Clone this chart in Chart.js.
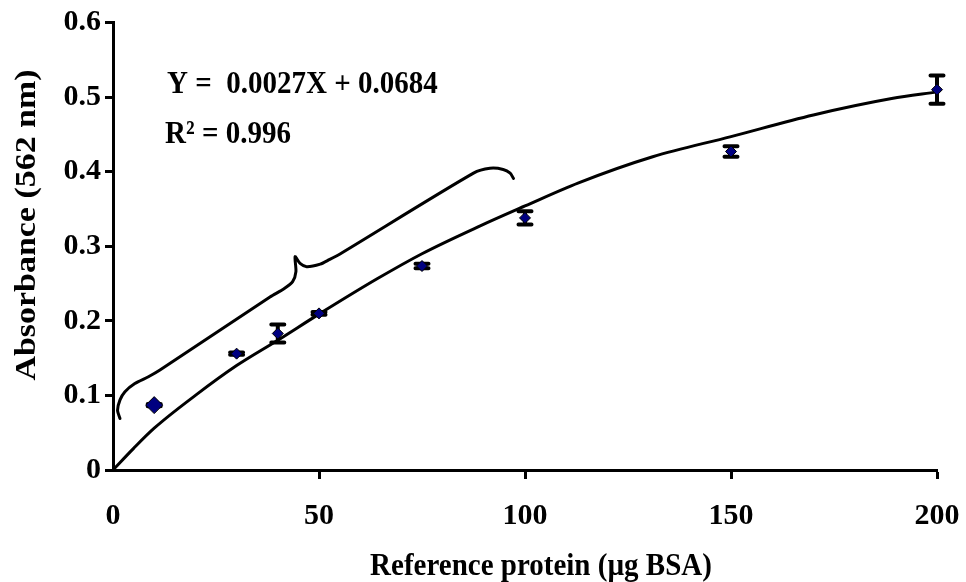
<!DOCTYPE html>
<html>
<head>
<meta charset="utf-8">
<script src="https://cdn.jsdelivr.net/npm/chart.js@4/dist/chart.umd.min.js"></script>
<style>
html,body{margin:0;padding:0;background:#fff;}
canvas{display:block;}
</style>
</head>
<body>
<canvas id="c" width="966" height="582"></canvas>
<script>
// ---- data ----
const sampleX   = [10, 30, 40, 50, 75, 100, 150, 200];
const sampleY   = [0.087, 0.156, 0.183, 0.210, 0.2735, 0.338, 0.427, 0.510];
const sampleErr = [0.0015, 0.0015, 0.012, 0.002, 0.003, 0.009, 0.007, 0.019];

const trendX = [0, 5, 10, 20, 30, 40, 50, 64, 75, 89, 100, 113, 131, 150, 170, 189, 200];
const trendY = [0, 0.029, 0.056, 0.100, 0.140, 0.174, 0.209, 0.256, 0.290, 0.327, 0.354, 0.385, 0.420, 0.447, 0.476, 0.498, 0.507];

const braceX = [1.7, 1.1, 1.7, 2.9, 5.3, 8.6, 11.4, 38.1, 41.5, 43.6, 44.4, 44.2, 45.4, 47.0, 50.3, 52.5, 55.5, 87.5, 91.5, 94.7, 96.4, 97.2];
const braceY = [0.069, 0.080, 0.094, 0.105, 0.116, 0.125, 0.134, 0.232, 0.243, 0.2525, 0.266, 0.286, 0.277, 0.2726, 0.276, 0.282, 0.291, 0.398, 0.4045, 0.403, 0.398, 0.391];

const xTickLabels = ['0', '50', '100', '150', '200'];
const yTickLabels = ['0', '0.1', '0.2', '0.3', '0.4', '0.5', '0.6'];

const xTitle = 'Reference protein (\u00b5g BSA)';
const yTitle = 'Absorbance (562 nm)';
const eqText = 'Y =  0.0027X + 0.0684';
const r2Text = 'R\u00b2 = 0.996';

// ---- helpers ----
const pts = (xs, ys) => xs.map((v, i) => ({x: v, y: ys[i]}));
const FONT = '"Liberation Serif", "Times New Roman", serif';

const errorBars = {
  id: 'errorBars',
  beforeDatasetsDraw(chart) {
    const {ctx, scales: {x, y}} = chart;
    ctx.save();
    ctx.strokeStyle = '#000';
    ctx.lineWidth = 4;
    ctx.lineCap = 'round';
    sampleX.forEach((xv, i) => {
      const px = x.getPixelForValue(xv);
      const top = y.getPixelForValue(sampleY[i] + sampleErr[i]);
      const bot = y.getPixelForValue(sampleY[i] - sampleErr[i]);
      ctx.beginPath();
      ctx.moveTo(px, top); ctx.lineTo(px, bot);
      ctx.moveTo(px - 6.5, top); ctx.lineTo(px + 6.5, top);
      ctx.moveTo(px - 6.5, bot); ctx.lineTo(px + 6.5, bot);
      ctx.stroke();
    });
    ctx.restore();
  }
};

const texts = {
  id: 'texts',
  afterDraw(chart) {
    const ctx = chart.ctx;
    ctx.save();
    ctx.fillStyle = '#000';
    ctx.font = 'bold 29px ' + FONT;
    ctx.textAlign = 'left';
    ctx.textBaseline = 'alphabetic';
    ctx.save(); ctx.translate(167, 93); ctx.scale(1, 1.08); ctx.fillText(eqText, 0, 0); ctx.restore();
    ctx.save(); ctx.translate(165, 143); ctx.scale(1, 1.08); ctx.fillText(r2Text, 0, 0); ctx.restore();
    ctx.textAlign = 'center';
    ctx.save(); ctx.translate(541, 575); ctx.scale(1, 1.08); ctx.fillText(xTitle, 0, 0); ctx.restore();
    ctx.save();
    ctx.translate(35, 225);
    ctx.rotate(-Math.PI / 2);
    ctx.scale(1.17, 1.04);
    ctx.fillText(yTitle, 0, 0);
    ctx.restore();
    ctx.restore();
  }
};

new Chart(document.getElementById('c'), {
  type: 'scatter',
  data: {
    datasets: [
      {
        label: 'samples',
        data: pts(sampleX, sampleY),
        pointStyle: 'rectRot',
        pointRadius: (c) => c.dataIndex === 0 ? 8.5 : 5.5,
        pointBackgroundColor: '#000080',
        pointBorderColor: '#000',
        pointBorderWidth: 1,
        showLine: false
      },
      {
        label: 'trend',
        data: pts(trendX, trendY),
        showLine: true,
        borderColor: '#000',
        borderWidth: 3,
        pointRadius: 0,
        cubicInterpolationMode: 'monotone',
        fill: false
      },
      {
        label: 'brace',
        data: pts(braceX, braceY),
        showLine: true,
        borderColor: '#000',
        borderWidth: 3,
        pointRadius: 0,
        tension: 0.25,
        borderJoinStyle: 'round',
        borderCapStyle: 'round',
        fill: false
      }
    ]
  },
  options: {
    responsive: false,
    animation: false,
    clip: false,
    layout: {padding: {left: 0, right: 29, top: 22.5, bottom: 0}},
    plugins: {legend: {display: false}, tooltip: {enabled: false}, title: {display: false}},
    scales: {
      x: {
        type: 'linear',
        min: 0, max: 200,
        afterFit: (s) => { s.height = 582 - 470; s.paddingLeft = 0; s.paddingRight = 0; },
        ticks: {
          stepSize: 50,
          color: '#000',
          padding: 19,
          font: {family: FONT, size: 30, weight: 'bold'},
          callback: (v, i) => xTickLabels[i]
        },
        grid: {
          drawOnChartArea: false, drawTicks: true, tickLength: 9, tickWidth: 3,
          tickColor: (c) => c.index === 0 ? 'rgba(0,0,0,0)' : '#000'
        },
        border: {display: true, color: '#000', width: 3}
      },
      y: {
        type: 'linear',
        min: 0, max: 0.6,
        afterFit: (s) => { s.width = 113; s.paddingTop = 0; s.paddingBottom = 0; },
        ticks: {
          stepSize: 0.1,
          color: '#000',
          padding: 4,
          font: {family: FONT, size: 30, weight: 'bold'},
          callback: (v, i) => yTickLabels[i]
        },
        grid: {drawOnChartArea: false, drawTicks: true, tickLength: 8, tickWidth: 3, tickColor: '#000'},
        border: {display: true, color: '#000', width: 3}
      }
    }
  },
  plugins: [errorBars, texts]
});
</script>
</body>
</html>
